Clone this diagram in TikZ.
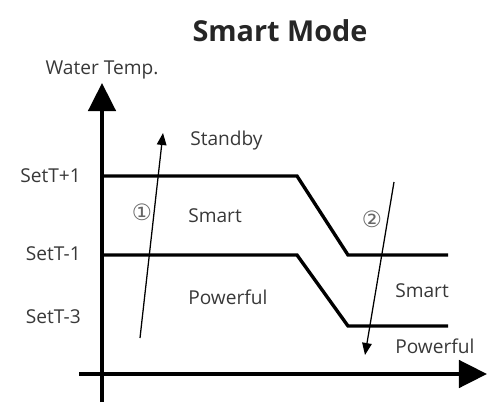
\documentclass[tikz,border=0pt]{standalone}
\usepackage{fontspec}
\setmainfont{Open Sans}
\newfontfamily\circfont{DejaVu Sans}
\usetikzlibrary{arrows.meta}
\tikzset{
  axis/.style={
    line width=2.8pt,
    -{Triangle[length=0.7cm,width=0.68cm]}},
  level/.style={line width=2.4pt, line join=miter},
  change/.style={
    line width=0.9pt,
    -{Triangle[length=0.3cm,width=0.24cm]}},
  lbl/.style={font=\fontsize{13.6}{15}\selectfont, text=black!78, inner sep=0pt},
  circnum/.style={font=\circfont\fontsize{16}{17}\selectfont, text=black!60, inner sep=0pt},
  heading/.style={font=\bfseries\fontsize{20.5}{24}\selectfont, text=black!85, inner sep=0pt}
  }

\begin{document}
\begin{tikzpicture}[x=0.025cm,y=-0.025cm]
      \useasboundingbox (0,0) rectangle (493,407);
      % axes
      \coordinate (yfoot) at (102,402);
      \coordinate (ytip) at (102,83);
      \coordinate (xfoot) at (79,374);
      \coordinate (xtip) at (487,374);
      \draw [axis] (yfoot) -- (ytip);
      \draw [axis] (xfoot) -- (xtip);
      % thresholds
      \coordinate (up0) at (102,176);
      \coordinate (up1) at (297,176);
      \coordinate (up2) at (348,255);
      \coordinate (up3) at (448,255);
      \coordinate (lo0) at (102,255);
      \coordinate (lo1) at (297,255);
      \coordinate (lo2) at (348,326);
      \coordinate (lo3) at (448,326);
      \draw [level] (up0) -- (up1) -- (up2) -- (up3);
      \draw [level] (lo0) -- (lo1) -- (lo2) -- (lo3);
      % labels
      \node [heading] (title) at (280,31) {Smart Mode};
      \node [lbl] (ylabel) at (102,70) {Water Temp.};
      \node [lbl, anchor=east] (setp1) at (81,176) {SetT+1};
      \node [lbl, anchor=east] (setm1) at (81,254) {SetT-1};
      \node [lbl, anchor=east] (setm3) at (81,317) {SetT-3};
      \node [lbl, anchor=west] (standby) at (190,141) {Standby};
      \node [lbl, anchor=west] (smartA) at (188,216) {Smart};
      \node [lbl, anchor=west] (powerA) at (188,297) {Powerful};
      \node [lbl, anchor=west] (smartB) at (395,291) {Smart};
      \node [lbl, anchor=west] (powerB) at (395,346) {Powerful};
      \node [circnum] (one) at (142,212) {①};
      \node [circnum] (two) at (372,219) {②};
      % rising and falling temperature
      \coordinate (riseA) at (140,338);
      \coordinate (riseB) at (163,133);
      \coordinate (fallA) at (394,182);
      \coordinate (fallB) at (365,355);
      \draw [change] (riseA) -- (riseB);
      \draw [change] (fallA) -- (fallB);
    \end{tikzpicture}
\end{document}
